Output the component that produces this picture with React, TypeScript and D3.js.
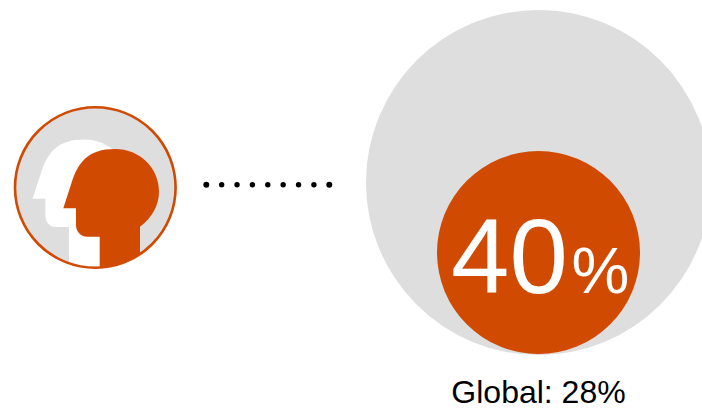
import React from "react";
import * as d3 from "d3";

const localShare = [40];
const shareLabel = ["40", "%"];
const globalLabel = ["Global: 28%"];
const leaderDots = ["a", "b", "c", "d", "e", "f", "g", "h", "i"];
const wholeValue = [115.6];

const ORANGE = "#d04a02";
const GREY = "#dedede";
const FONT = "'Liberation Sans', Arial, Helvetica, sans-serif";

// Square-root scale: circle area is proportional to the value.
const radius = d3.scaleSqrt().domain([0, 40]).range([0, 101.5]);
const dotX = d3.scalePoint<string>().domain(leaderDots).range([206.3, 329.3]);

// Head silhouette in icon coordinates, drawn with d3.path.
function headPath(): string {
  const p = d3.path();
  p.moveTo(63.3, 208.3);
  p.lineTo(71, 184.5);
  p.bezierCurveTo(78, 162, 88, 149, 115, 149);
  p.bezierCurveTo(140, 149, 159, 168, 159, 191.7);
  p.bezierCurveTo(159, 205, 152, 218, 140, 226.7);
  p.lineTo(140, 280);
  p.lineTo(99.7, 280);
  p.lineTo(99.7, 236.7);
  p.lineTo(87.3, 236.7);
  p.bezierCurveTo(80, 236.7, 76, 231, 76, 225);
  p.lineTo(76, 208.3);
  p.closePath();
  return p.toString();
}

export default function App() {
  const big = radius(wholeValue[0]);
  const small = radius(localShare[0]);
  const cx = 538.5;
  const bigCy = 182.5;
  const bottom = bigCy + big - 1;
  const smallCy = bottom - small;
  const head = headPath();

  return (
    <svg
      width={702}
      height={409}
      style={{ position: "absolute", left: 0, top: 0, display: "block" }}
      fontFamily={FONT}
    >
      <defs>
        <clipPath id="icon-clip">
          <circle cx={95.3} cy={187.5} r={80} />
        </clipPath>
      </defs>

      {/* Person icon */}
      <circle cx={95.3} cy={187.5} r={80} fill={GREY} />
      <g clipPath="url(#icon-clip)">
        <path d={head} transform="translate(-30.7,-9.6)" fill="#fff" />
        <path d={head} fill={ORANGE} />
      </g>
      <circle cx={95.3} cy={187.5} r={80.3} fill="none" stroke={ORANGE} strokeWidth={2.6} />

      {/* Dotted leader */}
      {leaderDots.map((d, i) => (
        <circle
          key={d}
          cx={dotX(d)}
          cy={184.7}
          r={i === 0 || i === leaderDots.length - 1 ? 3 : 2.7}
          fill="#000"
        />
      ))}

      {/* Nested proportional circles */}
      <circle cx={cx} cy={bigCy} r={big} fill={GREY} />
      <circle cx={cx} cy={smallCy} r={small} fill={ORANGE} />

      <text x={451} y={292.5} fontSize={105} fill="#fff">
        {shareLabel[0]}
      </text>
      <text x={571.5} y={293} fontSize={65} fill="#fff">
        {shareLabel[1]}
      </text>
      <text x={538.5} y={403} fontSize={32} textAnchor="middle" fill="#000">
        {globalLabel[0]}
      </text>
    </svg>
  );
}
